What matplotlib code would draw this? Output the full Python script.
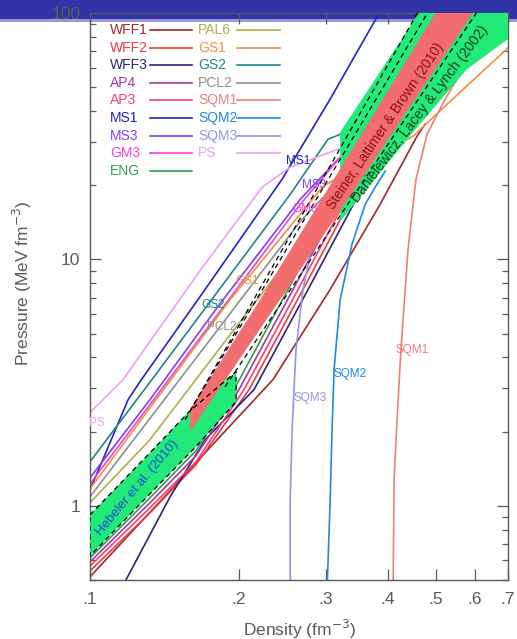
import matplotlib
matplotlib.use("Agg")
import matplotlib.pyplot as plt
from matplotlib.patches import Rectangle
from matplotlib.ticker import FixedLocator, FixedFormatter, NullFormatter, NullLocator, LogLocator

plt.rcParams['font.family'] = ['Liberation Sans', 'DejaVu Sans']

# ---- EOS curves: density (fm^-3) and pressure (MeV fm^-3) ----
ps_rho = [0.1000, 0.1166, 0.1670, 0.2228, 0.2540, 0.3172]
ps_p = [2.388, 3.252, 9.020, 19.62, 23.66, 28.01]

ms1_rho = [0.1000, 0.1072, 0.1194, 0.1262, 0.1670, 0.2445, 0.3059, 0.4044]
ms1_p = [1.162, 1.612, 2.697, 3.192, 7.072, 21.14, 44.72, 119.5]

gs2_rho = [0.1000, 0.1334, 0.2540, 0.3028, 0.3247]
gs2_p = [1.510, 3.252, 18.37, 30.74, 32.52]

ms3_rho = [0.1000, 0.1322, 0.1833, 0.2661, 0.3172]
ms3_p = [1.300, 2.697, 6.624, 17.53, 25.49]

gm3_rho = [0.1000, 0.1322, 0.1876, 0.2661, 0.3205]
gm3_p = [1.228, 2.574, 6.563, 16.73, 25.98]

gs1_rho = [0.1000, 0.1921, 0.2959, 0.3517, 0.4498, 0.5601, 0.7067]
gs1_p = [1.172, 6.877, 19.80, 24.11, 31.62, 47.74, 73.41]

pcl2_rho = [0.1000, 0.1833, 0.2661, 0.3280]
pcl2_p = [1.088, 5.341, 14.27, 22.16]

pal6_rho = [0.1000, 0.1322, 0.1921, 0.2661, 0.3280]
pal6_p = [1.029, 1.855, 4.956, 11.51, 19.62]

eng_rho = [0.1000, 0.1322, 0.1638, 0.1955, 0.2514, 0.3144]
eng_p = [0.615, 1.078, 1.673, 2.962, 7.551, 17.53]

ap4_rho = [0.1000, 0.1322, 0.1638, 0.2001, 0.2573, 0.3217]
ap4_p = [0.592, 1.029, 1.597, 2.962, 7.551, 17.53]

ap3_rho = [0.1000, 0.1322, 0.1638, 0.2048, 0.2634, 0.3292]
ap3_p = [0.570, 0.982, 1.510, 2.962, 7.551, 17.53]

wff2_rho = [0.1000, 0.1322, 0.1638, 0.2097, 0.2696, 0.3370]
wff2_p = [0.544, 0.937, 1.468, 2.962, 7.551, 17.53]

wff3_rho = [0.1154, 0.1182, 0.1452, 0.1709, 0.2146, 0.2760, 0.3451]
wff3_p = [0.456, 0.500, 1.088, 1.855, 2.962, 7.551, 17.53]

wff1_rho = [0.1000, 0.1521, 0.2344, 0.3059, 0.3860, 0.4583, 0.4759]
wff1_p = [0.515, 1.276, 3.252, 7.551, 16.73, 31.62, 35.39]

sqm1_rho = [0.4100, 0.4119, 0.4176, 0.4253, 0.4395, 0.4561, 0.4801, 0.5223, 0.5652]
sqm1_p = [0.456, 1.276, 2.236, 4.307, 10.98, 21.14, 32.22, 44.72, 58.09]

sqm2_rho = [0.3015, 0.3059, 0.3086, 0.3115, 0.3205, 0.3386, 0.3600, 0.3771, 0.3951]
sqm2_p = [0.456, 1.058, 2.037, 3.572, 6.877, 11.51, 16.73, 19.62, 22.79]

sqm3_rho = [0.2540, 0.2540, 0.2562, 0.2609, 0.2696, 0.2787, 0.2945, 0.3131]
sqm3_p = [0.456, 1.058, 2.037, 4.307, 7.551, 10.48, 13.00, 16.73]

# ---- constraint bands ----
hebeler_rho = [0.1000, 0.1322, 0.1594, 0.1974, 0.1974, 0.1638, 0.1322, 0.1000]
hebeler_p = [0.919, 1.642, 2.433, 3.505, 2.647, 1.738, 1.119, 0.626]

steiner_hi_rho = [0.1594, 0.2209, 0.5279]
steiner_hi_p = [2.456, 6.877, 120.0]
steiner_lo_rho = [0.1594, 0.2424, 0.6329]
steiner_lo_p = [2.000, 6.877, 120.0]

dll_rho = [0.3205, 0.4909, 0.7200, 0.7200, 0.7002, 0.5785, 0.4498, 0.3205]
dll_p = [32.83, 120.0, 120.0, 81.7, 78.4, 59.20, 32.83, 14.27]

# dashed extensions
dash_a_rho = [0.1557, 0.4837]
dash_a_p = [2.236, 120.0]
dash_b_rho = [0.1594, 0.5080]
dash_b_p = [2.433, 120.0]
dash_c_rho = [0.1876, 0.6421]
dash_c_p = [3.046, 120.0]

# axis ticks
x_ticks = [0.1, 0.2, 0.3, 0.4, 0.5, 0.6, 0.7]
x_tick_labels = ['.1', '.2', '.3', '.4', '.5', '.6', '.7']
y_ticks = [1, 10, 100]
y_tick_labels = ['1', '10', '100']

eos = [
    ("WFF1", wff1_rho, wff1_p, '#a0282e'),
    ("WFF2", wff2_rho, wff2_p, '#f03a3a'),
    ("WFF3", wff3_rho, wff3_p, '#26267a'),
    ("AP4", ap4_rho, ap4_p, '#a03c9c'),
    ("AP3", ap3_rho, ap3_p, '#f0407a'),
    ("MS1", ms1_rho, ms1_p, '#2222cc'),
    ("MS3", ms3_rho, ms3_p, '#8040ee'),
    ("GM3", gm3_rho, gm3_p, '#ee40dc'),
    ("ENG", eng_rho, eng_p, '#2e9e4e'),
    ("PAL6", pal6_rho, pal6_p, '#b0ae4c'),
    ("GS1", gs1_rho, gs1_p, '#f29040'),
    ("GS2", gs2_rho, gs2_p, '#1e8686'),
    ("PCL2", pcl2_rho, pcl2_p, '#909090'),
    ("SQM1", sqm1_rho, sqm1_p, '#f07c7c'),
    ("SQM2", sqm2_rho, sqm2_p, '#1e8ae0'),
    ("SQM3", sqm3_rho, sqm3_p, '#9494e6'),
    ("PS", ps_rho, ps_p, '#f0a0ee'),
]
colors = {name: c for name, _, _, c in eos}

# on-curve labels (name, density, pressure)
curve_labels = [
    ("PS", 0.1033, 2.175), ("MS1", 0.2634, 25.0), ("MS3", 0.2837, 20.0),
    ("GM3", 0.2721, 15.97), ("GS1", 0.2077, 8.21), ("GS2", 0.1773, 6.56),
    ("PCL2", 0.1849, 5.34), ("SQM1", 0.4477, 4.27), ("SQM2", 0.3356, 3.44),
    ("SQM3", 0.2785, 2.75),
]

fig = plt.figure(figsize=(5.17, 6.39), dpi=100, facecolor='white')
ax = fig.add_axes([90 / 517, 59 / 639, 418 / 517, 567 / 639])
ax.set_facecolor('none')

# slide header band behind the plot
fig.patches.append(Rectangle((0, 1 - 19 / 639), 1, 19 / 639, transform=fig.transFigure,
                             facecolor='#3333a8', edgecolor='none', zorder=-5))
fig.patches.append(Rectangle((0, 1 - 22 / 639), 1, 3 / 639, transform=fig.transFigure,
                             facecolor='#9a9ad6', edgecolor='none', zorder=-5))

for name, r, p, c in eos:
    ax.plot(r, p, color=c, lw=1.2, zorder=2, solid_joinstyle='round')

green = '#22ea78'
pink = '#f26d6d'
ax.fill(hebeler_rho, hebeler_p, color=green, lw=0, zorder=3)
ax.fill(dll_rho, dll_p, color=green, lw=0, zorder=3)
ax.fill(steiner_hi_rho + steiner_lo_rho[::-1], steiner_hi_p + steiner_lo_p[::-1],
        color=pink, lw=0, zorder=4)

dash = dict(color='black', lw=0.9, ls=(0, (4, 3)), zorder=5)
ax.plot(hebeler_rho + hebeler_rho[:1], hebeler_p + hebeler_p[:1], **dash)
ax.plot(dash_a_rho, dash_a_p, **dash)
ax.plot(dash_b_rho, dash_b_p, **dash)
ax.plot(dash_c_rho, dash_c_p, **dash)

ax.text(0.1245, 1.184, "Hebeler et al. (2010)", color='#1f4fd0', fontsize=9.5,
        rotation=50, ha='center', va='center', rotation_mode='anchor', zorder=6)
ax.text(0.3948, 34.7, "Steiner, Lattimer & Brown (2010)", color='#8a1212', fontsize=9.8,
        rotation=56, ha='center', va='center', rotation_mode='anchor', zorder=6)
ax.text(0.4647, 38.9, "Danielewicz, Lacey & Lynch (2002)", color='#1c3e1c', fontsize=10,
        rotation=53, ha='center', va='center', rotation_mode='anchor', zorder=6)

for name, r, p in curve_labels:
    ax.text(r, p, name, color=colors[name], fontsize=8.5, ha='center', va='center', zorder=6)

# two-column key in the upper left
col1 = ["WFF1", "WFF2", "WFF3", "AP4", "AP3", "MS1", "MS3", "GM3", "ENG"]
col2 = ["PAL6", "GS1", "GS2", "PCL2", "SQM1", "SQM2", "SQM3", "PS"]


def fx(px):
    return (px - 90) / 418


def fy(py):
    return (580 - py) / 567


for col, tx, lx0, lx1 in ((col1, 110, 150, 192), (col2, 198, 237, 280)):
    for i, name in enumerate(col):
        py = 30 + 17.6 * i
        ax.text(fx(tx), fy(py), name, color=colors[name], fontsize=10,
                ha='left', va='center', transform=ax.transAxes, zorder=6)
        ax.plot([fx(lx0), fx(lx1)], [fy(py), fy(py)], color=colors[name], lw=1.2,
                transform=ax.transAxes, zorder=6)

ax.set_xscale('log')
ax.set_yscale('log')
ax.set_xlim(0.1, 0.7)
ax.set_ylim(0.5, 100)
ax.xaxis.set_major_locator(FixedLocator(x_ticks))
ax.xaxis.set_major_formatter(FixedFormatter(x_tick_labels))
ax.xaxis.set_minor_locator(NullLocator())
ax.yaxis.set_major_locator(FixedLocator(y_ticks))
ax.yaxis.set_major_formatter(FixedFormatter(y_tick_labels))
ax.yaxis.set_minor_locator(LogLocator(base=10, subs=range(2, 10)))
ax.yaxis.set_minor_formatter(NullFormatter())

gray = '#5a5a5a'
ax.tick_params(which='both', direction='in', top=True, right=True, color=gray,
               labelcolor=gray, labelsize=12.5, width=0.9)
ax.tick_params(which='major', length=8)
ax.tick_params(which='minor', length=4.5)
ax.tick_params(axis='x', pad=9)
ax.tick_params(axis='y', pad=7)
for s in ax.spines.values():
    s.set_color(gray)
    s.set_linewidth(1.0)

fig.text(300 / 517, 1 - 629 / 639, "Density (fm$^{-3}$)", color=gray, fontsize=12.5,
         ha='center', va='center')
fig.text(22 / 517, 1 - 283 / 639, "Pressure (MeV fm$^{-3}$)", color=gray, fontsize=12.5,
         ha='center', va='center', rotation=90)

fig.savefig("out.png", dpi=100, facecolor='white')
